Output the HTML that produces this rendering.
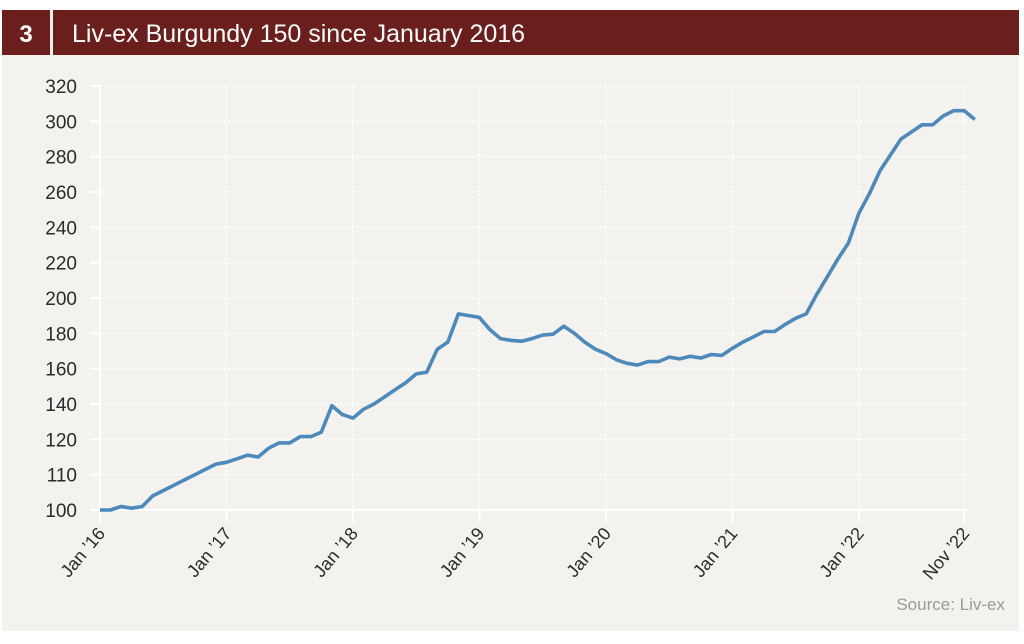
<!DOCTYPE html>
<html><head><meta charset="utf-8"><style>
body{margin:0;width:1024px;height:639px;background:#fff;overflow:hidden;font-family:"Liberation Sans",sans-serif}
</style></head><body>
<svg width="1024" height="639" xmlns="http://www.w3.org/2000/svg" font-family="Liberation Sans, sans-serif">
<rect x="2" y="55" width="1017" height="576" fill="#f3f2ee"/>
<rect x="2" y="10" width="1017" height="45" fill="#6b1f1c"/>
<rect x="50" y="10" width="3" height="45" fill="#f3f2ee"/>
<text x="26" y="42" fill="#fff" font-size="24" font-weight="bold" text-anchor="middle">3</text>
<text x="72" y="42" fill="#fff" font-size="25">Liv-ex Burgundy 150 since January 2016</text>
<g id="g"></g>
<text x="1005" y="610" fill="#9a9a9a" font-size="17" text-anchor="end">Source: Liv-ex</text>
</svg>
<script>
var g=document.getElementById('g'),h='';
var ticks=[100,110,120,140,160,180,200,220,240,260,280,300,320];
function Y(v){if(v<=120)return 510-(v-100)*3.533;return 439.3-(v-120)*1.7667;}
function X(m){return 100+m*10.54;}
ticks.forEach(function(t,i){var y=510-i*35.33;
 if(i>0)h+='<line x1="100" x2="967" y1="'+y+'" y2="'+y+'" stroke="#fff" stroke-width="1.5" stroke-dasharray="2,2"/>';
 h+='<line x1="90" x2="100" y1="'+y+'" y2="'+y+'" stroke="#fff" stroke-width="2"/>';
 h+='<text x="77" y="'+(y+7)+'" font-size="19" fill="#2a2a2a" text-anchor="end">'+t+'</text>';});
var xl=[[0,"Jan '16"],[12,"Jan '17"],[24,"Jan '18"],[36,"Jan '19"],[48,"Jan '20"],[60,"Jan '21"],[72,"Jan '22"],[82,"Nov '22"]];
xl.forEach(function(a){var x=X(a[0]);
 if(a[0]>0)h+='<line x1="'+x+'" x2="'+x+'" y1="86" y2="510" stroke="#fff" stroke-width="1.5" stroke-dasharray="2,2"/>';
 h+='<line x1="'+x+'" x2="'+x+'" y1="510" y2="522" stroke="#fff" stroke-width="2"/>';
 h+='<text transform="translate('+(x+6)+',534) rotate(-50)" font-size="18" fill="#2a2a2a" text-anchor="end">'+a[1].replace("'","&#8217;")+'</text>';});
h+='<line x1="100" x2="100" y1="86" y2="511" stroke="#fff" stroke-width="2"/>';
h+='<line x1="99" x2="967" y1="510" y2="510" stroke="#fff" stroke-width="2"/>';
var d=[100,100,101,100.5,101,104,105.5,107,108.5,110,111.5,113,113.5,114.5,115.5,115,117.5,119,119,121.5,121.5,124,139,134,132,137,140,144,148,152,157,158,171,175,191,190,189,182,177,176,175.5,177,179,179.5,184,180,175,171,168.5,165,163,162,164,164,166.5,165.5,167,166,168,167.5,171.5,175,178,181,181,185,188.5,191,202,212,222,231,248,259,272,281,290,294,298,298,303,306,306,301];
var p=d.map(function(v,i){return X(i).toFixed(1)+','+Y(v).toFixed(1)}).join(' ');
h+='<polyline points="'+p+'" fill="none" stroke="#4d89bb" stroke-width="3.6" stroke-linejoin="round"/>';
g.innerHTML=h;
</script>
</body></html>
